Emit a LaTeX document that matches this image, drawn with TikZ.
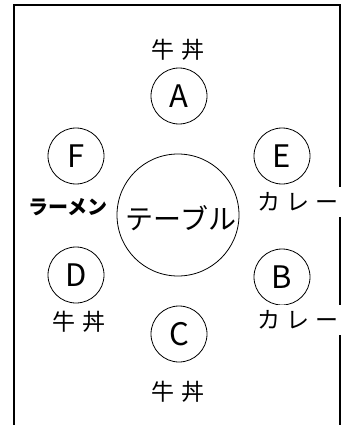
\documentclass[tikz,border=0pt]{standalone}
\usepackage{fontspec}
\newfontfamily\jp{Noto Sans CJK JP}
\begin{document}
\begin{tikzpicture}[x=1pt,y=-1pt,
  seat/.style={circle,draw,line width=0.8pt,minimum size=56pt,inner sep=0pt,
    font=\jp\fontsize{31}{31}\selectfont},
  table/.style={circle,draw,line width=0.8pt,minimum size=122pt,inner sep=0pt,
    font=\jp\fontsize{28}{28}\selectfont},
  dish/.style={inner sep=0pt,font=\jp\fontsize{23}{23}\selectfont},
  edgedish/.style={dish,anchor=west,fill=white,text width=84pt,inner xsep=1pt,
    minimum height=30pt,align=left},
  bolddish/.style={inner sep=0pt,font=\jp\bfseries\fontsize{20}{20}\selectfont}]
\useasboundingbox (0,0) rectangle (345,425);
\clip (0,0) rectangle (345,425);
% room outline, open at the bottom
\draw[line width=2pt] (14,440) -- (14,5) -- (340,5) -- (340,440);
% table and seats
\node[table] (tbl) at (178,215) {};
\node[font=\jp\fontsize{28}{28}\selectfont,inner sep=0pt] (tbllabel) at (181,218) {テーブル};
\node[seat] (A) at (179,96) {A};
\node[seat] (F) at (76,156) {F};
\node[seat] (E) at (282,156) {E};
\node[seat] (D) at (76,275) {D};
\node[seat] (B) at (282,277) {B};
\node[seat] (C) at (179,334) {C};
% orders
\node[dish] (dA) at (178,50) {牛\hspace{8pt}丼};
\node[bolddish] (dF) at (68,207) {ラーメン};
\node[edgedish] (dE) at (256,202) {カ\hspace{6pt}レ\hspace{6pt}ー};
\node[dish] (dD) at (79,322) {牛\hspace{8pt}丼};
\node[edgedish] (dB) at (256,320) {カ\hspace{6pt}レ\hspace{6pt}ー};
\node[dish] (dC) at (178,392) {牛\hspace{8pt}丼};
\end{tikzpicture}
\end{document}
